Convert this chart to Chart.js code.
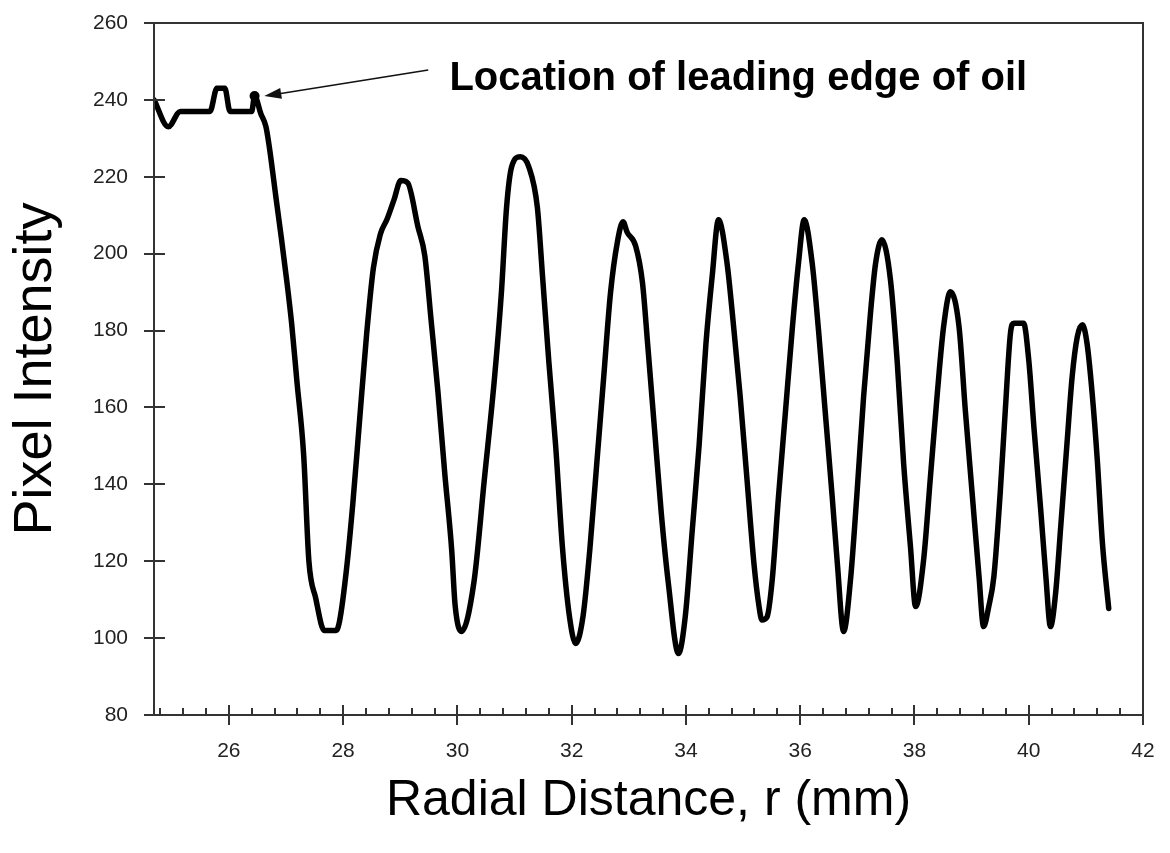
<!DOCTYPE html>
<html>
<head>
<meta charset="utf-8">
<script src="https://cdn.jsdelivr.net/npm/chart.js@4.4.1/dist/chart.umd.min.js"></script>
<style>
  html, body { margin: 0; padding: 0; background: #ffffff; }
  #wrap { width: 1170px; height: 853px; }
</style>
</head>
<body>
<div id="wrap"><canvas id="fringeChart" width="1170" height="853"></canvas></div>
<script>
// radial distance r (mm) of each sample
var radius = [
  24.69, 24.94, 25.15, 25.67, 25.79, 25.93, 26.02, 26.40, 26.45, 26.56,
  26.65, 26.71, 26.83, 26.92, 27.01, 27.10, 27.19, 27.31, 27.40, 27.52,
  27.67, 27.88, 27.94, 28.06, 28.17, 28.29, 28.41, 28.53, 28.65, 28.77,
  28.89, 29.01, 29.13, 29.31, 29.43, 29.54, 29.66, 29.78, 29.90, 29.96,
  30.07, 30.29, 30.47, 30.65, 30.77, 30.86, 30.95, 31.10, 31.25, 31.40,
  31.49, 31.60, 31.72, 31.84, 31.96, 32.07, 32.20, 32.32, 32.44, 32.56,
  32.68, 32.80, 32.90, 32.97, 33.12, 33.24, 33.33, 33.45, 33.57, 33.69,
  33.87, 33.99, 34.11, 34.23, 34.35, 34.46, 34.57, 34.72, 34.84, 34.95,
  35.07, 35.19, 35.28, 35.33, 35.42, 35.51, 35.62, 35.74, 35.86, 35.97,
  36.07, 36.21, 36.32, 36.44, 36.56, 36.65, 36.76, 36.88, 36.99, 37.11,
  37.23, 37.32, 37.43, 37.58, 37.70, 37.81, 37.93, 38.02, 38.16, 38.28,
  38.40, 38.51, 38.63, 38.78, 38.89, 39.01, 39.13, 39.21, 39.30, 39.39,
  39.50, 39.59, 39.68, 39.74, 39.91, 40.00, 40.09, 40.21, 40.30, 40.38,
  40.47, 40.56, 40.67, 40.76, 40.85, 40.94, 41.02, 41.11, 41.20, 41.29,
  41.40
];

// pixel intensity at each of those samples
var intensity = [
  240, 233, 237, 237, 243, 243, 237, 237, 241, 236.4,
  233, 227.6, 214, 204, 193.4, 181.7, 167, 147.5, 120.2, 110.4,
  102, 102, 104.6, 118, 135, 157, 178.8, 196.3, 205, 209,
  214, 219, 218.4, 207, 199.4, 182.7, 164, 142.7, 123, 108.6,
  101.7, 114.6, 141, 167.7, 189.8, 211.9, 222.6, 225.2, 222.6, 212,
  194.2, 172, 150, 123.4, 105.8, 98.6, 105.8, 123.4, 145.5, 167.7,
  189.8, 203, 208.3, 205.6, 202, 192.4, 176.5, 154.4, 132.3, 114.6,
  96, 105.8, 127.9, 150, 176.5, 194.2, 208.8, 197.5, 180.2, 162.8,
  141.1, 119.5, 108.2, 104.7, 105.5, 115.1, 136.8, 158.5, 180.2, 197.5,
  208.8, 197.5, 180.2, 158.5, 136.8, 119.5, 101.7, 115.1, 136.8, 162.8,
  184.5, 197.5, 203.6, 193.2, 171.5, 145.5, 123.8, 108.2, 120.3, 142,
  163.7, 181, 190.1, 181, 159.3, 137.6, 116, 103, 108.2, 116,
  137.6, 159.3, 179.3, 181.9, 181.9, 172.4, 155, 133.3, 116, 103,
  111.6, 129, 150.7, 168, 178.4, 181.5, 176.7, 163.7, 146.3, 124.7,
  107.7
];

// axis ranges and tick spacing
var xMin = 24.69, xMax = 42, xMajorStep = 2, xMinorStep = 0.4;
var yMin = 80, yMax = 260, yStep = 20;

// the sample marked as the oil front, and the note pointing at it
var edgeRadius = 26.45;
var noteText = "Location of leading edge of oil";
var noteTextAt = { x: 29.86, y: 242.6 };
var arrowFrom = { x: 29.49, y: 247.8 };
var arrowTo = { x: 26.62, y: 241 };

var edgeIndex = radius.indexOf(edgeRadius);

var points = [];
for (var i = 0; i < radius.length; i++) {
  points.push({ x: radius[i], y: intensity[i] });
}

var fontFamily = "'Liberation Sans', Arial, sans-serif";

// draws the plot frame, the crossing tick marks, minor ticks and the note
var frameAndNote = {
  id: "frameAndNote",
  afterDatasetsDraw: function (chart) {
    var ctx = chart.ctx;
    var area = chart.chartArea;
    var xs = chart.scales.x;
    var ys = chart.scales.y;

    ctx.save();
    ctx.strokeStyle = "#333333";
    ctx.lineWidth = 2;
    ctx.strokeRect(area.left, area.top, area.right - area.left, area.bottom - area.top);

    ctx.beginPath();
    // major x ticks cross the axis
    for (var v = 26; v <= xMax + 0.001; v += xMajorStep) {
      var px = Math.round(xs.getPixelForValue(v));
      ctx.moveTo(px, area.bottom - 10);
      ctx.lineTo(px, area.bottom + 10);
    }
    // minor x ticks point into the plot
    for (var k = Math.ceil(xMin / xMinorStep); k * xMinorStep <= xMax; k++) {
      var mv = k * xMinorStep;
      if (Math.abs(mv / xMajorStep - Math.round(mv / xMajorStep)) < 0.01) continue;
      var mx = Math.round(xs.getPixelForValue(mv));
      ctx.moveTo(mx, area.bottom);
      ctx.lineTo(mx, area.bottom - 7);
    }
    // y ticks cross the axis
    for (var w = yMin; w <= yMax; w += yStep) {
      var py = Math.round(ys.getPixelForValue(w));
      ctx.moveTo(area.left - 10, py);
      ctx.lineTo(area.left + 11, py);
    }
    ctx.stroke();

    // arrow to the leading edge
    var ax0 = xs.getPixelForValue(arrowFrom.x), ay0 = ys.getPixelForValue(arrowFrom.y);
    var ax1 = xs.getPixelForValue(arrowTo.x), ay1 = ys.getPixelForValue(arrowTo.y);
    var ang = Math.atan2(ay1 - ay0, ax1 - ax0);
    ctx.strokeStyle = "#111111";
    ctx.fillStyle = "#111111";
    ctx.lineWidth = 1.5;
    ctx.beginPath();
    ctx.moveTo(ax0, ay0);
    ctx.lineTo(ax1 - 12 * Math.cos(ang), ay1 - 12 * Math.sin(ang));
    ctx.stroke();
    ctx.beginPath();
    ctx.moveTo(ax1, ay1);
    ctx.lineTo(ax1 - 17 * Math.cos(ang) + 5.5 * Math.sin(ang), ay1 - 17 * Math.sin(ang) - 5.5 * Math.cos(ang));
    ctx.lineTo(ax1 - 17 * Math.cos(ang) - 5.5 * Math.sin(ang), ay1 - 17 * Math.sin(ang) + 5.5 * Math.cos(ang));
    ctx.closePath();
    ctx.fill();

    ctx.fillStyle = "#000000";
    ctx.font = "bold 40px " + fontFamily;
    ctx.textAlign = "left";
    ctx.textBaseline = "alphabetic";
    ctx.fillText(noteText, xs.getPixelForValue(noteTextAt.x), ys.getPixelForValue(noteTextAt.y));
    ctx.restore();
  }
};

var myChart = new Chart(document.getElementById("fringeChart").getContext("2d"), {
  type: "line",
  data: {
    datasets: [
      {
        label: "Pixel Intensity",
        data: points,
        borderColor: "#000000",
        backgroundColor: "#000000",
        borderWidth: 5.5,
        fill: false,
        cubicInterpolationMode: "monotone",
        borderJoinStyle: "round",
        borderCapStyle: "round",
        pointRadius: function (c) { return c.dataIndex === edgeIndex ? 5 : 0; },
        pointBorderWidth: 0,
        pointHoverRadius: 0
      }
    ]
  },
  options: {
    responsive: false,
    animation: false,
    events: [],
    layout: { padding: { top: 23, right: 27, left: 0, bottom: 0 } },
    plugins: {
      legend: { display: false },
      tooltip: { enabled: false }
    },
    scales: {
      x: {
        type: "linear",
        min: xMin,
        max: xMax,
        afterFit: function (s) {
          s.height = 138;
          s.paddingLeft = 0;
          s.paddingRight = 0;
        },
        grid: { display: false, drawTicks: false },
        border: { display: false },
        ticks: {
          stepSize: xMajorStep,
          includeBounds: false,
          autoSkip: false,
          maxRotation: 0,
          padding: 24,
          color: "#222222",
          font: { family: fontFamily, size: 21 },
          callback: function (value) {
            return Math.abs(value % 2) < 0.001 ? String(value) : "";
          }
        },
        title: {
          display: true,
          text: "Radial Distance, r (mm)",
          color: "#000000",
          font: { family: fontFamily, size: 50 },
          padding: { top: 0, bottom: 22 }
        }
      },
      y: {
        min: yMin,
        max: yMax,
        afterFit: function (s) {
          s.width = 154;
          s.paddingTop = 0;
          s.paddingBottom = 0;
        },
        grid: { display: false, drawTicks: false },
        border: { display: false },
        ticks: {
          stepSize: yStep,
          padding: 26,
          color: "#222222",
          font: { family: fontFamily, size: 21 }
        },
        title: {
          display: true,
          text: "Pixel Intensity",
          color: "#000000",
          font: { family: fontFamily, size: 54 },
          padding: { top: 4, bottom: 0 }
        }
      }
    }
  },
  plugins: [frameAndNote]
});
</script>
</body>
</html>
